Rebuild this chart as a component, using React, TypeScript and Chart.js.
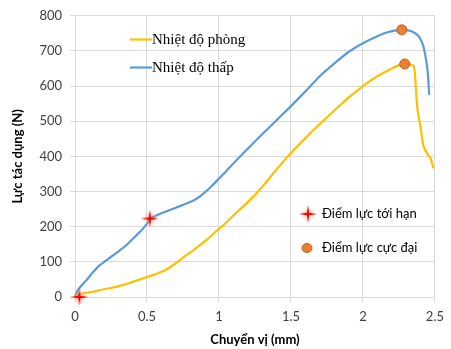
import React, { useEffect, useRef } from "react";
import { Chart, registerables } from "chart.js";

Chart.register(...registerables);

// Nhiệt độ thấp (blue)
const lowX = [0, 0.02, 0.05, 0.08, 0.12, 0.17, 0.23, 0.29, 0.35, 0.40, 0.45, 0.50, 0.52, 0.55, 0.60, 0.70, 0.80, 0.85, 0.90, 0.95, 1.00, 1.05, 1.10, 1.20, 1.30, 1.40, 1.50, 1.60, 1.70, 1.80, 1.90, 2.00, 2.10, 2.17, 2.22, 2.27, 2.33, 2.38, 2.41, 2.43, 2.45, 2.46];
const lowY = [0, 20, 35, 48, 68, 90, 108, 126, 145, 165, 185, 208, 222, 229, 238, 254, 270, 281, 297, 316, 337, 358, 380, 422, 463, 503, 543, 585, 628, 664, 697, 722, 742, 753, 758, 760, 757, 745, 725, 695, 640, 575];

// Nhiệt độ phòng (yellow)
const roomX = [0, 0.03, 0.08, 0.125, 0.2, 0.285, 0.35, 0.40, 0.45, 0.51, 0.57, 0.63, 0.70, 0.76, 0.81, 0.87, 0.925, 0.98, 1.03, 1.10, 1.20, 1.30, 1.40, 1.50, 1.60, 1.70, 1.80, 1.90, 2.00, 2.10, 2.20, 2.25, 2.29, 2.35, 2.36, 2.37, 2.38, 2.40, 2.42, 2.45, 2.47, 2.48, 2.49];
const roomY = [0, 8, 12, 15, 22, 29, 36, 43, 50, 58, 67, 77, 96, 115, 129, 148, 166, 187, 204, 232, 270, 313, 363, 410, 452, 492, 530, 567, 600, 628, 650, 659, 663, 658, 640, 578, 530, 483, 430, 405, 395, 380, 366];

// Điểm lực tới hạn
const critX = [0.03, 0.52];
const critY = [0, 223];

// Điểm lực cực đại
const maxX = [2.27, 2.29];
const maxY = [760, 663];

const xTicks = [0, 0.5, 1, 1.5, 2, 2.5];
const yTicks = [0, 100, 200, 300, 400, 500, 600, 700, 800];

const seriesLabels = ["Nhiệt độ phòng", "Nhiệt độ thấp"];
const markerLabels = ["Điểm lực tới hạn", "Điểm lực cực đại"];

const YELLOW = "#FFC000";
const BLUE = "#5B9BD5";
const ORANGE = "#ED7D31";
const ORANGE_BORDER = "#B5651D";
const SANS = "Lato, 'Liberation Sans', sans-serif";
const SERIF = "'Liberation Serif', 'DejaVu Serif', serif";

function makeStar(): HTMLCanvasElement {
  const c = document.createElement("canvas");
  const s = 22;
  c.width = s;
  c.height = s;
  const ctx = c.getContext("2d")!;
  const cx = s / 2, cy = s / 2;
  const g = ctx.createRadialGradient(cx, cy, 0, cx, cy, 8);
  g.addColorStop(0, "rgba(255,120,80,0.55)");
  g.addColorStop(1, "rgba(255,160,120,0)");
  ctx.fillStyle = g;
  ctx.beginPath();
  ctx.arc(cx, cy, 8, 0, Math.PI * 2);
  ctx.fill();
  const R = 9, r = 1.6;
  ctx.fillStyle = "#FF0000";
  ctx.beginPath();
  for (let i = 0; i < 8; i++) {
    const a = (i * Math.PI) / 4 - Math.PI / 2;
    const rad = i % 2 === 0 ? R : r;
    const px = cx + rad * Math.cos(a);
    const py = cy + rad * Math.sin(a);
    if (i === 0) ctx.moveTo(px, py);
    else ctx.lineTo(px, py);
  }
  ctx.closePath();
  ctx.fill();
  return c;
}

export default function App() {
  const ref = useRef<HTMLCanvasElement | null>(null);

  useEffect(() => {
    document.body.style.margin = "0";
    const canvas = ref.current!;
    const star = makeStar();
    const toPts = (xs: number[], ys: number[]) => xs.map((x, i) => ({ x, y: ys[i] }));

    const legendPlugin = {
      id: "customLegend",
      afterDraw(chart: any) {
        const ctx = chart.ctx as CanvasRenderingContext2D;
        ctx.save();
        const items = [
          { color: YELLOW, y: 39.5, text: seriesLabels[0] },
          { color: BLUE, y: 67.5, text: seriesLabels[1] },
        ];
        ctx.font = `15px ${SERIF}`;
        ctx.textBaseline = "middle";
        ctx.textAlign = "left";
        for (const it of items) {
          ctx.strokeStyle = it.color;
          ctx.lineWidth = 2.2;
          ctx.beginPath();
          ctx.moveTo(130, it.y);
          ctx.lineTo(152, it.y);
          ctx.stroke();
          ctx.fillStyle = "#000";
          ctx.fillText(it.text, 152, it.y + 1);
        }
        ctx.drawImage(star, 308 - 11, 214 - 11);
        ctx.fillStyle = ORANGE;
        ctx.strokeStyle = ORANGE_BORDER;
        ctx.lineWidth = 1;
        ctx.beginPath();
        ctx.ellipse(307, 248, 5, 4.5, 0, 0, Math.PI * 2);
        ctx.fill();
        ctx.stroke();
        ctx.font = `13px ${SANS}`;
        ctx.fillStyle = "#000";
        ctx.fillText(markerLabels[0], 322, 214);
        ctx.fillText(markerLabels[1], 322, 248);
        ctx.restore();
      },
    };

    const chart = new Chart(canvas, {
      type: "scatter",
      data: {
        datasets: [
          {
            label: seriesLabels[1],
            data: toPts(lowX, lowY),
            showLine: true,
            borderColor: BLUE,
            borderWidth: 2.2,
            pointRadius: 0,
            tension: 0.2,
            order: 3,
          },
          {
            label: seriesLabels[0],
            data: toPts(roomX, roomY),
            showLine: true,
            borderColor: YELLOW,
            borderWidth: 2.2,
            pointRadius: 0,
            tension: 0.2,
            order: 2,
          },
          {
            label: markerLabels[0],
            data: toPts(critX, critY),
            pointStyle: star as any,
            pointRadius: 10,
            showLine: false,
            order: 0,
          },
          {
            label: markerLabels[1],
            data: toPts(maxX, maxY),
            pointStyle: "circle",
            pointRadius: 5,
            backgroundColor: ORANGE,
            borderColor: ORANGE_BORDER,
            borderWidth: 1,
            showLine: false,
            order: 1,
          },
        ],
      },
      options: {
        animation: false,
        responsive: false,
        clip: false as any,
        layout: { padding: { left: 0, right: 11, top: 15, bottom: 0 } },
        plugins: { legend: { display: false }, tooltip: { enabled: false } },
        scales: {
          x: {
            type: "linear",
            min: 0,
            max: 2.5,
            afterBuildTicks: (s: any) => {
              s.ticks = xTicks.map((v) => ({ value: v }));
            },
            afterFit: (s: any) => {
              s.height = 52;
            },
            ticks: {
              color: "#404040",
              font: { family: SANS, size: 13 },
              padding: 7,
              callback: (v: any) => String(v),
            },
            grid: { color: "#D9D9D9", tickLength: 5, tickColor: "#D9D9D9" },
            border: { color: "#D9D9D9" },
            title: {
              display: true,
              text: "Chuyển vị (mm)",
              color: "#000",
              font: { family: SANS, size: 13, weight: "bold" },
              padding: { top: 0, bottom: 1 },
            },
          },
          y: {
            type: "linear",
            min: 0,
            max: 800,
            afterBuildTicks: (s: any) => {
              s.ticks = yTicks.map((v) => ({ value: v }));
            },
            afterFit: (s: any) => {
              s.width = 75;
            },
            ticks: {
              color: "#404040",
              font: { family: SANS, size: 13 },
              padding: 8,
            },
            grid: { color: "#D9D9D9", tickLength: 5, tickColor: "#D9D9D9" },
            border: { color: "#D9D9D9" },
            title: {
              display: true,
              text: "Lực tác dụng (N)",
              color: "#000",
              font: { family: SANS, size: 13, weight: "bold" },
              padding: { top: 10, bottom: 0 },
            },
          },
        },
      },
      plugins: [legendPlugin],
    });
    return () => chart.destroy();
  }, []);

  return (
    <div style={{ width: 451, height: 349, background: "#fff" }}>
      <canvas ref={ref} width={451} height={349} />
    </div>
  );
}
